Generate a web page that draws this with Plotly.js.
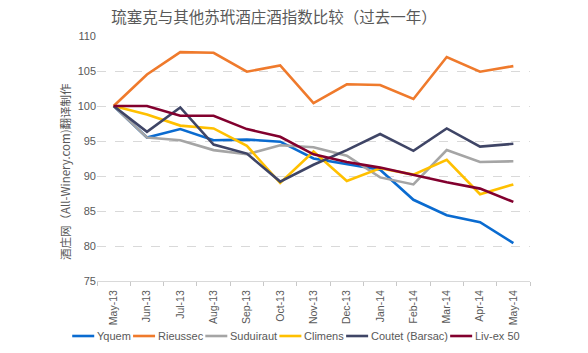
<!DOCTYPE html>
<html>
<head>
<meta charset="utf-8">
<script src="https://cdn.plot.ly/plotly-3.0.1.min.js"></script>
<style>html,body{margin:0;padding:0;background:#fff;}#chart{width:588px;height:353px;}</style>
</head>
<body>
<div id="chart"></div>
<script>
const months = ["May-13","Jun-13","Jul-13","Aug-13","Sep-13","Oct-13","Nov-13","Dec-13","Jan-14","Feb-14","Mar-14","Apr-14","May-14"];
const yquem     = [100, 95.5, 96.7, 95.1, 95.2, 94.9, 92.5, 91.7, 90.9, 86.6, 84.4, 83.4, 80.4];
const rieussec  = [100, 104.5, 107.7, 107.6, 104.9, 105.8, 100.4, 103.1, 103.0, 101.0, 107.0, 104.9, 105.7];
const suduiraut = [100, 95.5, 95.1, 93.7, 93.1, 94.4, 94.1, 92.9, 89.8, 88.8, 93.7, 92.0, 92.1];
const climens   = [100, 98.8, 97.2, 96.8, 94.3, 89.0, 93.5, 89.3, 91.1, 90.2, 92.3, 87.4, 88.8];
const coutet    = [100, 96.3, 99.8, 94.5, 93.2, 89.2, 91.6, 93.7, 96.0, 93.6, 96.8, 94.2, 94.6];
const livex     = [100, 100.0, 98.6, 98.6, 96.7, 95.6, 93.1, 92.0, 91.2, 90.1, 89.1, 88.2, 86.3];
const seriesNames = ["Yquem","Rieussec","Suduiraut","Climens","Coutet (Barsac)","Liv-ex 50"];
const seriesData = [yquem, rieussec, suduiraut, climens, coutet, livex];
const colors = ["#0a6bd0","#ef7a2c","#a5a5a5","#ffc000","#3f4566","#82002e"];

const W = 588, H = 353;
const mL = 97, mR = 58, mT = 36, mB = 72;

const traces = seriesData.map((d, i) => ({
  x: months, y: d, type: "scatter", mode: "lines", name: seriesNames[i],
  line: {color: colors[i], width: 2.6}, showlegend: false
}));
// empty helper trace so the boundary-tick axis is drawn (no marks)
traces.push({x: [], y: [], xaxis: "x2", yaxis: "y", type: "scatter", mode: "lines", showlegend: false, hoverinfo: "skip"});

// Custom single-row legend (line swatch + label), laid out by measured text widths
const legFont = "11px 'Liberation Sans', Arial, sans-serif";
const ctx = document.createElement("canvas").getContext("2d");
ctx.font = legFont;
const swatch = 22, gapAfterSwatch = 1, gapBetween = 4;
const widths = seriesNames.map(n => ctx.measureText(n).width);
const total = widths.reduce((a, w) => a + swatch + gapAfterSwatch + w, 0) + gapBetween * (seriesNames.length - 1);
let cx = (W - total) / 2 + 1;
const legY = 336;
const shapes = [], annotations = [];
seriesNames.forEach((n, i) => {
  shapes.push({type: "line", xref: "paper", yref: "paper",
    x0: (cx - mL) / (W - mL - mR), x1: (cx + swatch - mL) / (W - mL - mR),
    y0: (H - mB - legY) / (H - mT - mB), y1: (H - mB - legY) / (H - mT - mB),
    line: {color: colors[i], width: 2.6}});
  cx += swatch + gapAfterSwatch;
  annotations.push({text: n, showarrow: false, xref: "paper", yref: "paper",
    x: (cx - mL) / (W - mL - mR), xanchor: "left", y: (H - mB - legY) / (H - mT - mB), yanchor: "middle",
    font: {size: 11, color: "#595959", family: "Liberation Sans, Arial, sans-serif"}});
  cx += widths[i] + gapBetween;
});
// Y-axis title as annotation
annotations.push({text: "酒庄网（All-Winery.com)翻译制作", showarrow: false, textangle: -90,
  xref: "paper", yref: "paper", x: (65 - mL) / (W - mL - mR), xanchor: "center",
  y: (H - mB - 172) / (H - mT - mB), yanchor: "middle",
  font: {family: "Noto Sans CJK SC", size: 11.5, color: "#595959"}});

const boundaryTicks = months.map((m, i) => i - 0.5).concat([months.length - 0.5]);

const layout = {
  width: W, height: H,
  margin: {l: mL, r: mR, t: mT, b: mB},
  paper_bgcolor: "#fff", plot_bgcolor: "#fff",
  font: {family: "Liberation Sans, Arial, sans-serif", color: "#595959", size: 11},
  title: {text: "琉塞克与其他苏玳酒庄酒指数比较（过去一年）", x: 274/588, xanchor: "center", y: 1 - 18/353, yanchor: "middle",
          font: {family: "Noto Sans CJK SC", size: 15.5, color: "#595959"}},
  xaxis: {type: "category", range: [-0.5, months.length - 0.5], tickangle: -90, showgrid: false,
          showline: true, linecolor: "#d9d9d9", linewidth: 1, ticks: "", ticklabelstandoff: 4,
          tickfont: {size: 10.5, color: "#595959"}, fixedrange: true},
  xaxis2: {overlaying: "x", anchor: "y", side: "bottom", type: "linear", range: [-0.5, months.length - 0.5],
           tickmode: "array", tickvals: boundaryTicks, showticklabels: false, ticks: "outside", ticklen: 4,
           tickcolor: "#c8c8c8", showgrid: false, showline: false, zeroline: false, fixedrange: true},
  yaxis: {range: [75, 110], dtick: 5, showgrid: true, gridcolor: "#d9d9d9", griddash: "dash", gridwidth: 1,
          zeroline: false, showline: false, ticks: "", tickfont: {size: 11, color: "#595959"}},
  showlegend: false,
  shapes: shapes,
  annotations: annotations
};
Plotly.newPlot("chart", traces, layout, {displayModeBar: false, staticPlot: true});
</script>
</body>
</html>
